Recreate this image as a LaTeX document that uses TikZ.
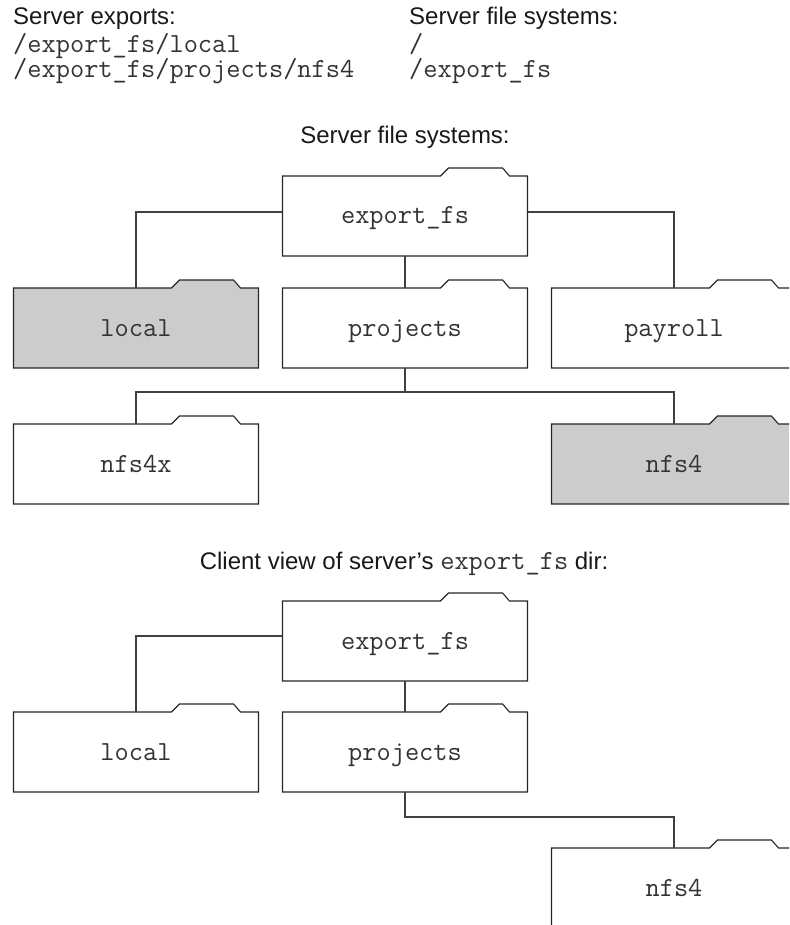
\documentclass[tikz,border=0pt]{standalone}
\usepackage{fontspec}
\setmainfont{Liberation Sans}
\usetikzlibrary{calc}
\newcommand{\monosize}{\fontsize{27.6}{30}\selectfont\ttfamily}
\tikzset{
  x=1pt,y=-1pt,
  outline/.style={draw=black!85,line width=1.1pt,line join=miter},
  conn/.style={draw=black!75,line width=1.1pt},
  folder/.style={
    rectangle,draw=none,fill=none,minimum width=245pt,minimum height=80pt,inner sep=0pt,
    text height=16pt,text depth=0pt,
    font=\monosize,text=black!80
  },
  sanslabel/.style={anchor=base west,inner sep=0pt,font=\fontsize{24}{28}\selectfont,text=black!90},
  monolabel/.style={anchor=base west,inner sep=0pt,font=\monosize,text=black!80},
  titlelabel/.style={anchor=base,inner sep=0pt,font=\fontsize{24}{28}\selectfont,text=black!90}
}
% fill colour, node name, centre, text
\newcommand{\foldertext}[4]{%
  \draw[outline,fill=#1] ($(#3)+(-122.5,-40)$) -- ++(158,0) -- ++(8,-8) -- ++(54,0) -- ++(7,8)
    -- ++(18,0) -- ++(0,80) -- ++(-245,0) -- cycle;
  \node[folder] (#2) at (#3) {#4};}
\begin{document}
\begin{tikzpicture}
\useasboundingbox (0,0) rectangle (789,925);
\clip (0,0) rectangle (789,925);
\node[sanslabel] (h1) at (13,25) {Server exports:};
\node[monolabel] (p1) at (13,52.5) {/export\_fs/local};
\node[monolabel] (p2) at (13,78) {/export\_fs/projects/nfs4};
\node[sanslabel] (h2) at (409,25) {Server file systems:};
\node[monolabel] (p3) at (409,52.5) {/};
\node[monolabel] (p4) at (409,78) {/export\_fs};
\node[titlelabel] (t1) at (405,144) {Server file systems:};
\node[titlelabel] (t2) at (404,569) {Client view of server's {\monosize\color{black!80} export\_fs} dir:};

\foldertext{white}{a}{405,216}{export\_fs}
\foldertext{black!20}{b}{136,328}{local}
\foldertext{white}{c}{405,328}{projects}
\foldertext{white}{d}{674,328}{payroll}
\foldertext{white}{e}{136,464}{nfs4x}
\foldertext{black!20}{f}{674,464}{nfs4}

\foldertext{white}{g}{405,641}{export\_fs}
\foldertext{white}{h}{136,752}{local}
\foldertext{white}{i}{405,752}{projects}
\foldertext{white}{j}{674,888}{nfs4}

\coordinate (ja) at (405,392);
\coordinate (jb) at (405,817);
\draw[conn] (a.west) ++(0,-4) -| (b.north);
\draw[conn] (a.east) ++(0,-4) -| (d.north);
\draw[conn] (a.south) -- (c.north);
\draw[conn] (c.south) -- (ja);
\draw[conn] (e.north) |- (ja) -| (f.north);
\draw[conn] (g.west) ++(0,-5) -| (h.north);
\draw[conn] (g.south) -- (i.north);
\draw[conn] (i.south) -- (jb) -| (j.north);
\end{tikzpicture}
\end{document}
